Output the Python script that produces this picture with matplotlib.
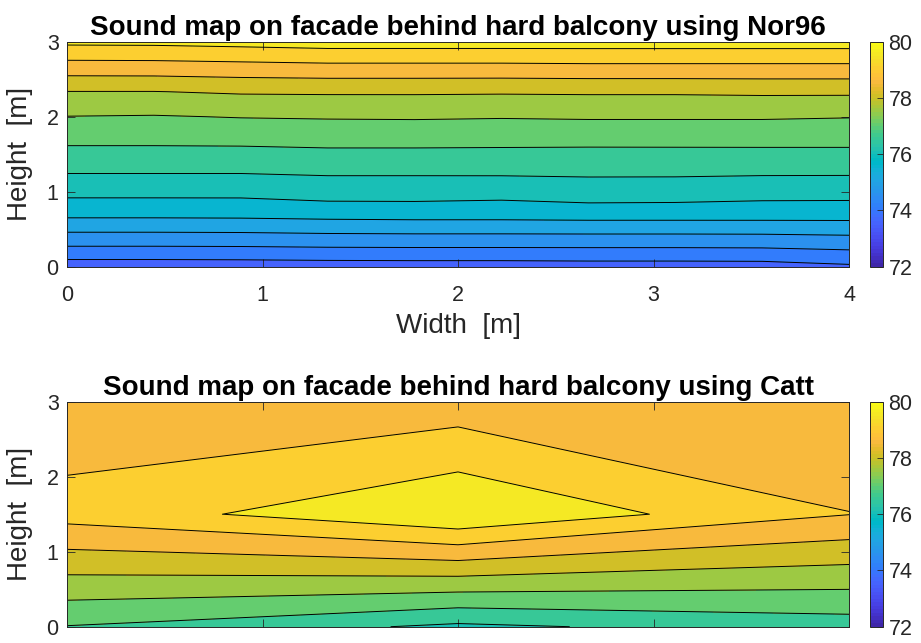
import numpy as np
import matplotlib
matplotlib.use('Agg')
import matplotlib.pyplot as plt
from matplotlib.colors import ListedColormap, Normalize
from matplotlib.cm import ScalarMappable

# MATLAB parula(64)
parula = ListedColormap([
    [0.2422, 0.1504, 0.6603], [0.2504, 0.1650, 0.7076], [0.2578, 0.1818, 0.7511], [0.2647, 0.1978, 0.7952],
    [0.2706, 0.2147, 0.8364], [0.2751, 0.2342, 0.8710], [0.2783, 0.2559, 0.8991], [0.2803, 0.2782, 0.9221],
    [0.2813, 0.3006, 0.9414], [0.2810, 0.3228, 0.9579], [0.2795, 0.3447, 0.9717], [0.2760, 0.3667, 0.9829],
    [0.2699, 0.3892, 0.9906], [0.2602, 0.4123, 0.9952], [0.2440, 0.4358, 0.9988], [0.2206, 0.4603, 0.9973],
    [0.1963, 0.4847, 0.9892], [0.1834, 0.5074, 0.9798], [0.1786, 0.5289, 0.9682], [0.1764, 0.5499, 0.9520],
    [0.1687, 0.5703, 0.9359], [0.1540, 0.5902, 0.9218], [0.1460, 0.6091, 0.9079], [0.1380, 0.6276, 0.8973],
    [0.1248, 0.6459, 0.8883], [0.1113, 0.6635, 0.8763], [0.0952, 0.6798, 0.8598], [0.0689, 0.6948, 0.8394],
    [0.0297, 0.7082, 0.8163], [0.0036, 0.7203, 0.7917], [0.0067, 0.7312, 0.7660], [0.0433, 0.7411, 0.7394],
    [0.0964, 0.7500, 0.7120], [0.1408, 0.7584, 0.6842], [0.1717, 0.7670, 0.6554], [0.1938, 0.7758, 0.6251],
    [0.2161, 0.7843, 0.5923], [0.2470, 0.7918, 0.5567], [0.2906, 0.7973, 0.5188], [0.3406, 0.8008, 0.4789],
    [0.3909, 0.8029, 0.4354], [0.4456, 0.8024, 0.3909], [0.5044, 0.7993, 0.3480], [0.5616, 0.7942, 0.3045],
    [0.6174, 0.7876, 0.2612], [0.6720, 0.7793, 0.2227], [0.7242, 0.7698, 0.1910], [0.7738, 0.7598, 0.1646],
    [0.8203, 0.7498, 0.1535], [0.8634, 0.7406, 0.1596], [0.9035, 0.7330, 0.1774], [0.9393, 0.7288, 0.2100],
    [0.9728, 0.7298, 0.2394], [0.9956, 0.7434, 0.2371], [0.9970, 0.7659, 0.2199], [0.9952, 0.7893, 0.2028],
    [0.9892, 0.8136, 0.1885], [0.9786, 0.8386, 0.1766], [0.9676, 0.8639, 0.1643], [0.9610, 0.8890, 0.1537],
    [0.9597, 0.9135, 0.1423], [0.9628, 0.9373, 0.1265], [0.9691, 0.9606, 0.1064], [0.9769, 0.9839, 0.0805],
], name='parula')

levels = np.arange(72, 80.5, 0.5)
clim = (72, 80)
cbar_ticks = [72, 74, 76, 78, 80]

# Nor96: sound level [dB] on the facade, rows = height, cols = width
x_nor = [0, 0.444, 0.889, 1.333, 1.778, 2.222, 2.667, 3.111, 3.556, 4.0]
y_nor = [0, 0.333, 0.667, 1.0, 1.333, 1.667, 2.0, 2.333, 2.667, 3.0]
L_nor = [
    [73.73, 73.73, 73.74, 73.76, 73.77, 73.77, 73.79, 73.79, 73.80, 73.92],
    [74.67, 74.67, 74.68, 74.71, 74.72, 74.72, 74.72, 74.72, 74.73, 74.78],
    [75.54, 75.54, 75.55, 75.59, 75.61, 75.61, 75.63, 75.63, 75.63, 75.63],
    [76.15, 76.15, 76.15, 76.25, 76.25, 76.20, 76.30, 76.28, 76.21, 76.20],
    [76.63, 76.63, 76.63, 76.64, 76.64, 76.67, 76.64, 76.65, 76.66, 76.66],
    [77.07, 77.07, 77.08, 77.12, 77.12, 77.10, 77.10, 77.10, 77.10, 77.10],
    [77.49, 77.47, 77.52, 77.54, 77.55, 77.53, 77.55, 77.55, 77.55, 77.52],
    [77.99, 77.99, 78.05, 78.06, 78.06, 78.05, 78.06, 78.06, 78.08, 78.08],
    [78.79, 78.80, 78.84, 78.88, 78.88, 78.88, 78.90, 78.90, 78.90, 78.90],
    [79.61, 79.62, 79.67, 79.73, 79.73, 79.73, 79.73, 79.73, 79.73, 79.73],
]

# Catt
x_catt = [0, 2, 4]
y_catt = [0, 1.5, 3]
L_catt = [
    [76.98, 76.40, 76.75],
    [79.19, 79.97, 79.01],
    [78.64, 78.72, 78.60],
]

plt.rcParams['font.family'] = ['Liberation Sans', 'DejaVu Sans']
gray = '#262626'

fig = plt.figure(figsize=(9.21, 6.43), dpi=100)
norm = Normalize(*clim)
band_colors = [parula(norm(v)) for v in levels[:-1]]

W, H = 921, 643
def box(l, t, r, b):
    return [l / W, 1 - b / H, (r - l) / W, (b - t) / H]

panels = [
    (x_nor, y_nor, L_nor, 'Sound map on facade behind hard balcony using Nor96', 41.7, 266.7),
    (x_catt, y_catt, L_catt, 'Sound map on facade behind hard balcony using Catt', 401.7, 626.7),
]

for x, y, z, title, top, bot in panels:
    ax = fig.add_axes(box(67, top, 849, bot))
    cax = fig.add_axes(box(869.5, top, 883, bot))
    ax.contourf(x, y, z, levels=levels, colors=band_colors)
    ax.contour(x, y, z, levels=levels, colors='k', linewidths=0.7)
    ax.set_xlim(0, 4)
    ax.set_ylim(0, 3)
    ax.set_xticks([0, 1, 2, 3, 4])
    ax.set_yticks([0, 1, 2, 3])
    ax.tick_params(direction='in', length=5.5, width=0.6, colors=gray, labelsize=15.5,
                   top=True, right=True)
    ax.tick_params(axis='x', pad=13)
    ax.tick_params(axis='y', pad=6)
    for s in ax.spines.values():
        s.set_color(gray)
        s.set_linewidth(0.7)
    ax.set_title(title, fontsize=20, fontweight='bold', pad=5)
    ax.set_ylabel('Height  [m]', fontsize=20, color=gray)
    ax.yaxis.set_label_coords(-0.043, 0.5)
    ax.set_xlabel('Width  [m]', fontsize=20, color=gray)
    ax.xaxis.set_label_coords(0.5, -0.208)

    cb = fig.colorbar(ScalarMappable(norm=norm, cmap=parula), cax=cax)
    cb.set_ticks(cbar_ticks)
    cb.outline.set_edgecolor(gray)
    cb.outline.set_linewidth(0.7)
    cax.tick_params(direction='in', length=4, width=0.6, colors=gray, labelsize=15.5, pad=4)

fig.savefig('out.png', dpi=100)
